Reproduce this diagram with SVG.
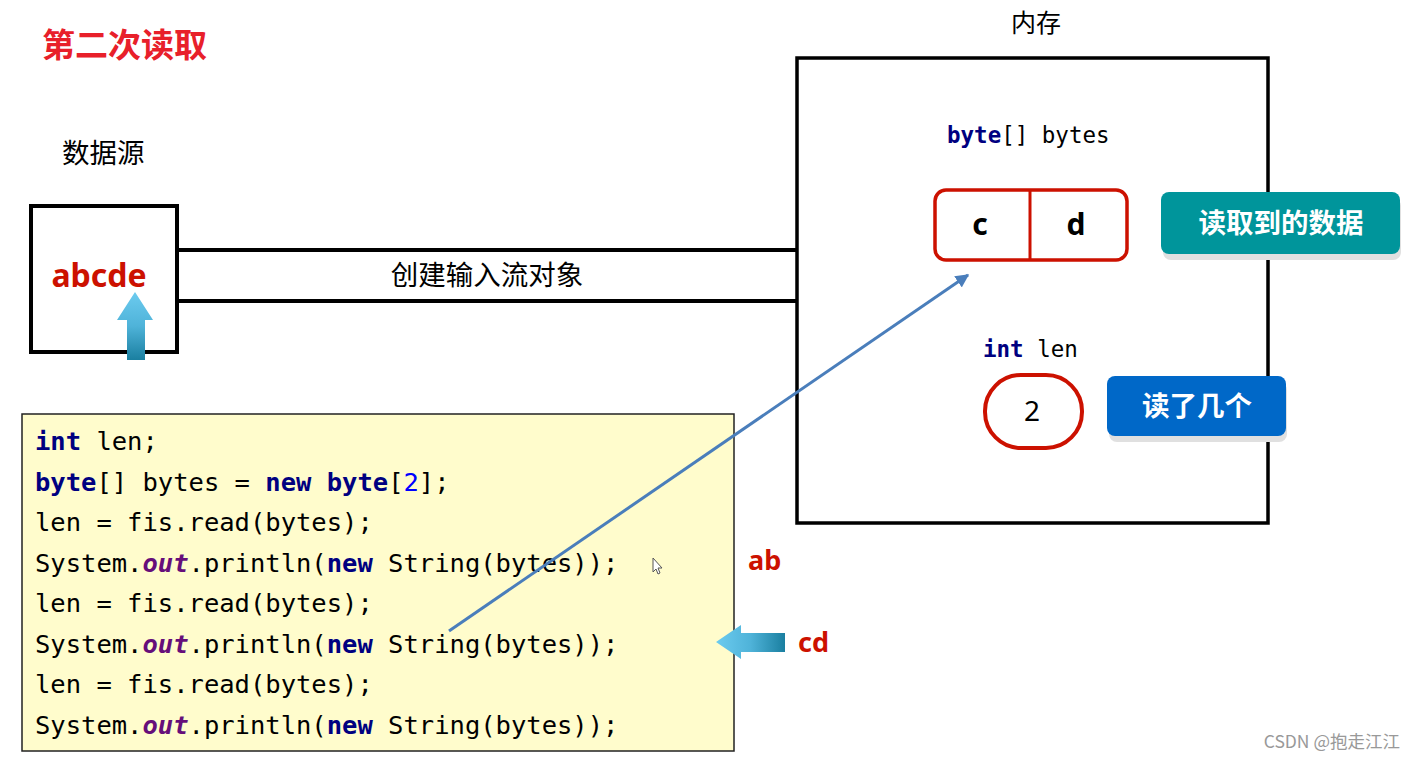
<svg xmlns="http://www.w3.org/2000/svg" width="1415" height="760" viewBox="0 0 1415 760">
<defs>
<style>
.cn{font-family:"Noto Sans CJK SC","Noto Sans",sans-serif}
.code{font-family:"DejaVu Sans Mono",monospace;font-size:25.5px;fill:#000}
.mem{font-family:"DejaVu Sans Mono",monospace;font-size:22.5px;fill:#000}
.kw{fill:#000080;font-weight:bold}
.it{fill:#660e7a;font-weight:bold;font-style:italic}
.num{fill:#0000ff}
.box{fill:#fff;stroke:#000;stroke-width:4}
.red{fill:#cc1100;font-family:"Noto Sans","DejaVu Sans",sans-serif;font-weight:bold}
.btn{fill:#fff;font-family:"Noto Sans CJK SC",sans-serif;font-weight:bold;font-size:27.5px}
</style>
<linearGradient id="gup" x1="0" y1="0" x2="0" y2="1">
<stop offset="0" stop-color="#6ccbef"/><stop offset="0.5" stop-color="#4fb3d9"/><stop offset="1" stop-color="#1a7fa0"/>
</linearGradient>
<linearGradient id="gleft" x1="0" y1="0" x2="1" y2="0">
<stop offset="0" stop-color="#6ccbef"/><stop offset="0.5" stop-color="#4fb3d9"/><stop offset="1" stop-color="#1a7fa0"/>
</linearGradient>
<marker id="ah" viewBox="0 0 10 10" refX="9" refY="5" markerWidth="4.5" markerHeight="4.5" orient="auto">
<path d="M0,0 L10,5 L0,10 z" fill="#4a7ebb"/>
</marker>
</defs>
<rect width="1415" height="760" fill="#fff"/>

<text x="42" y="57" class="cn" font-size="33" font-weight="bold" fill="#e8202a">第二次读取</text>

<g id="datasource">
<text x="62" y="163" class="cn" font-size="27.5" fill="#000">数据源</text>
<rect x="31" y="206" width="146" height="146" class="box"/>
<text x="99" y="287" class="red" font-size="32" text-anchor="middle">abcde</text>
<path d="M135,292 L153,320 L145,320 L145,360 L127,360 L127,320 L117,320 Z" fill="url(#gup)"/>
</g>

<g id="memory">
<text x="1036" y="32" class="cn" font-size="25" fill="#000" text-anchor="middle">内存</text>
<rect x="797" y="58" width="471" height="465" fill="#fff" stroke="#000" stroke-width="3.5"/>
<text x="947" y="143" class="mem"><tspan class="kw">byte</tspan>[] bytes</text>
</g>

<g id="bytesArray">
<rect x="935" y="190" width="192" height="70" rx="11" fill="#fff" stroke="#cc1100" stroke-width="3.5"/>
<line x1="1030" y1="190" x2="1030" y2="260" stroke="#cc1100" stroke-width="3"/>
<text x="980" y="235" font-family="Noto Sans,sans-serif" font-weight="bold" font-size="30" text-anchor="middle">c</text>
<text x="1076" y="235" font-family="Noto Sans,sans-serif" font-weight="bold" font-size="30" text-anchor="middle">d</text>
</g>

<g id="btnData">
<rect x="1163" y="198" width="238" height="62" rx="8" fill="#e0e0e0"/>
<rect x="1161" y="192" width="239" height="62" rx="8" fill="#00959b"/>
<text x="1281" y="233" class="btn" text-anchor="middle">读取到的数据</text>
</g>

<g id="lenVar">
<text x="983" y="357" class="mem"><tspan class="kw">int</tspan> len</text>
<rect x="985" y="375" width="97" height="73" rx="36" ry="36" fill="#fff" stroke="#cc1100" stroke-width="4"/>
<text x="1032" y="421" font-family="Noto Sans,sans-serif" font-size="28" text-anchor="middle">2</text>
</g>

<g id="btnCount">
<rect x="1109" y="382" width="178" height="60" rx="8" fill="#e0e0e0"/>
<rect x="1107" y="376" width="179" height="60" rx="8" fill="#0068c8"/>
<text x="1197" y="416" class="btn" text-anchor="middle">读了几个</text>
</g>

<g id="code">
<rect x="22" y="414" width="712" height="337" fill="#fffccc" stroke="#222" stroke-width="1.5"/>
<text x="35" y="450" class="code"><tspan class="kw">int</tspan> len;</text>
<text x="35" y="491" class="code"><tspan class="kw">byte</tspan>[] bytes = <tspan class="kw">new byte</tspan>[<tspan class="num">2</tspan>];</text>
<text x="35" y="531" class="code">len = fis.read(bytes);</text>
<text x="35" y="572" class="code">System.<tspan class="it">out</tspan>.println(<tspan class="kw">new</tspan> String(bytes));</text>
<text x="35" y="612" class="code">len = fis.read(bytes);</text>
<text x="35" y="653" class="code">System.<tspan class="it">out</tspan>.println(<tspan class="kw">new</tspan> String(bytes));</text>
<text x="35" y="693" class="code">len = fis.read(bytes);</text>
<text x="35" y="734" class="code">System.<tspan class="it">out</tspan>.println(<tspan class="kw">new</tspan> String(bytes));</text>
<path d="M653,558 L653,572 L656,569 L658,574 L660,573 L658,568 L662,568 Z" fill="#fff" stroke="#555" stroke-width="1"/>
</g>

<g id="results">
<text x="748" y="570" class="red" font-size="27">ab</text>
<path d="M716,642 L741,625 L741,633 L785,633 L785,652 L741,652 L741,659 Z" fill="url(#gleft)"/>
<text x="798" y="652" class="red" font-size="27">cd</text>
</g>

<g id="connectors">
<line x1="177" y1="250" x2="797" y2="250" stroke="#000" stroke-width="4"/>
<line x1="177" y1="301" x2="797" y2="301" stroke="#000" stroke-width="4"/>
<text x="487" y="285" class="cn" font-size="27.5" text-anchor="middle" fill="#000">创建输入流对象</text>
<line x1="449" y1="631" x2="968" y2="275" stroke="#4a7ebb" stroke-width="3" marker-end="url(#ah)"/>
</g>

<text x="1400" y="748" class="cn" font-size="17.5" fill="#999" text-anchor="end">CSDN @抱走江江</text>
</svg>
